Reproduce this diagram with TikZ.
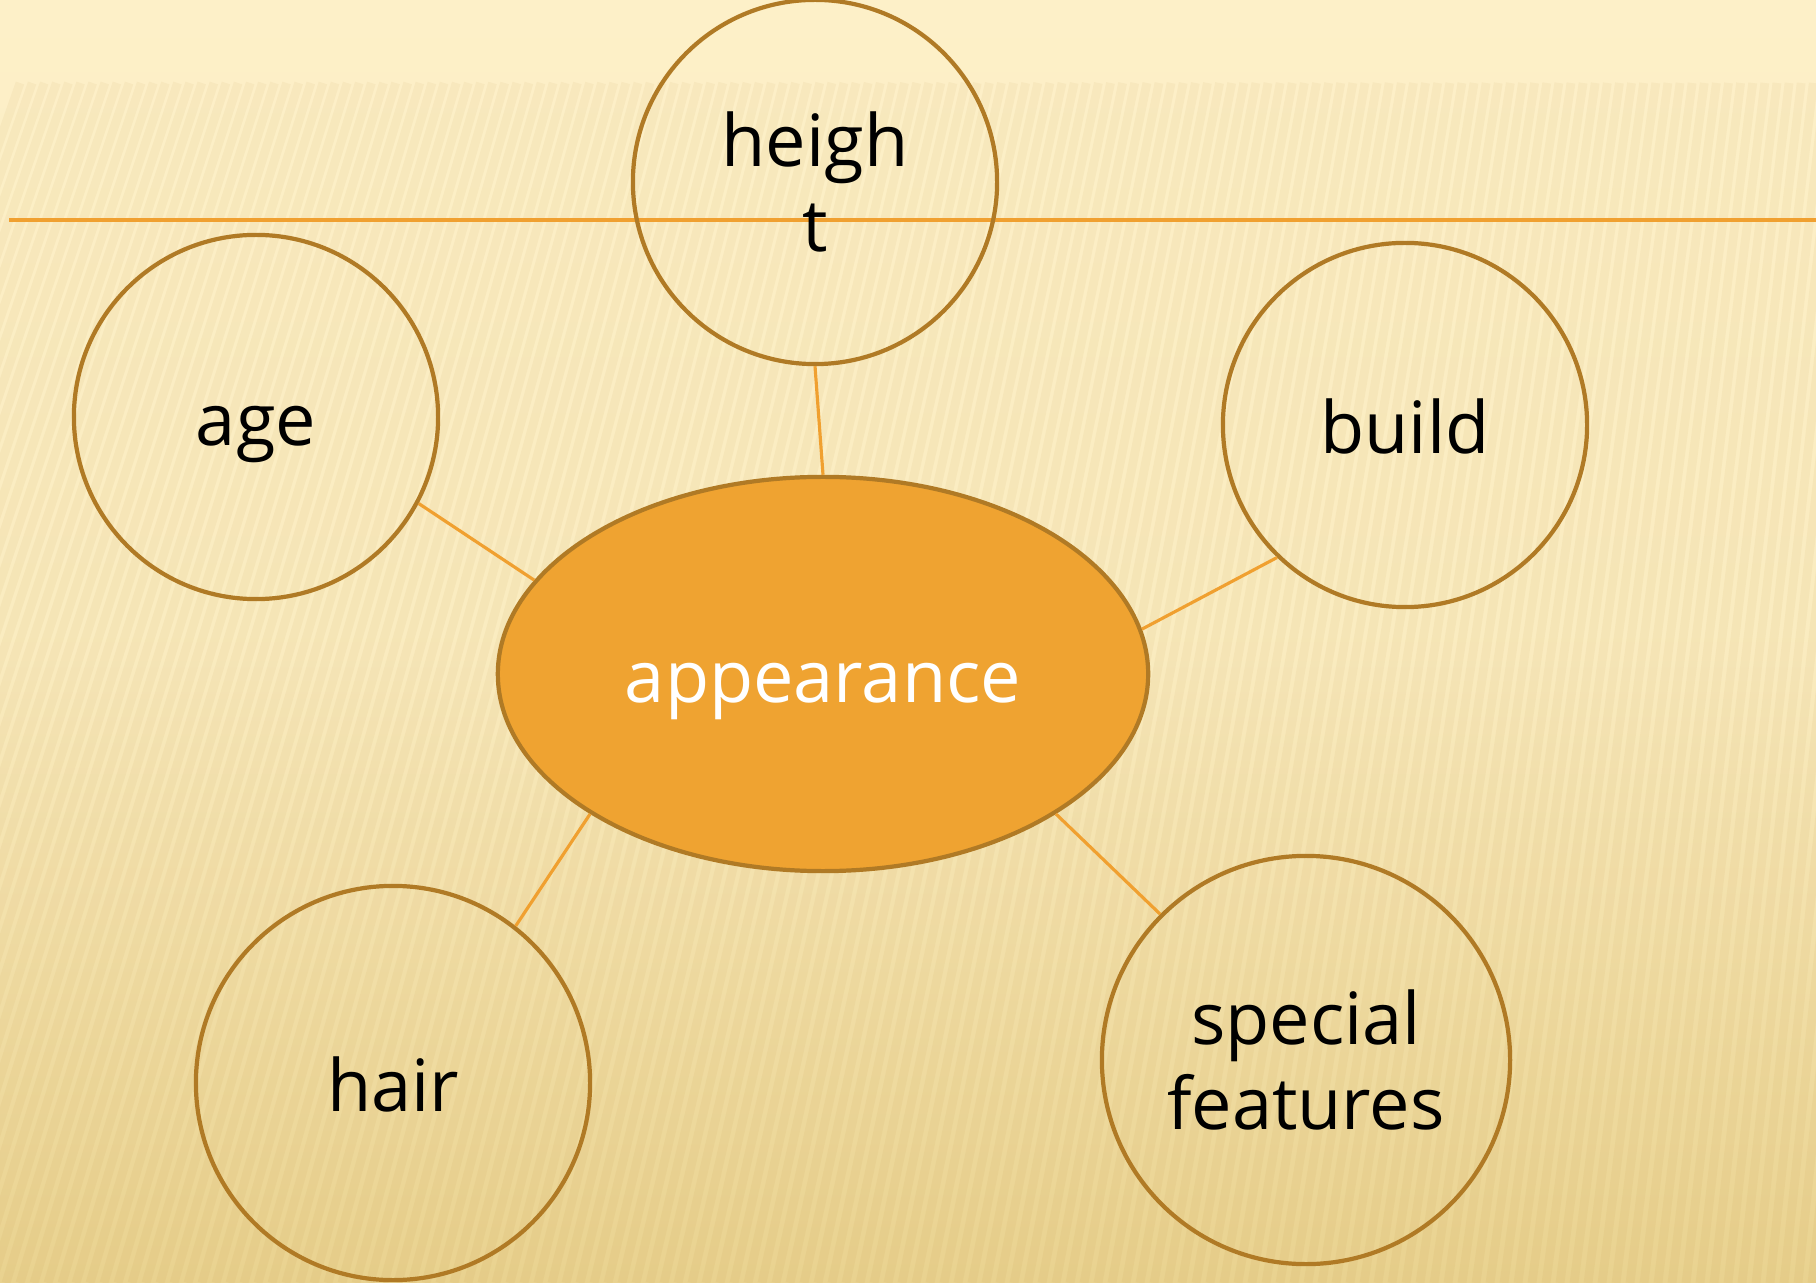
\documentclass[tikz,border=0pt]{standalone}
\usepackage{fontspec}
\setmainfont{Open Sans}
\usetikzlibrary{shapes.geometric, positioning}

\definecolor{ringbrown}{HTML}{B07A25}
\definecolor{linkorange}{HTML}{F0A030}
\definecolor{hubfill}{HTML}{EFA331}
\definecolor{paperlight}{HTML}{FDF0C8}
\definecolor{paperdark}{HTML}{E9D28F}

\begin{document}
\begin{tikzpicture}[x=0.01cm,y=-0.01cm,
    leaf/.style={circle,draw=ringbrown,line width=1.2pt,inner sep=0pt,
                 align=center,font=\fontsize{20.5}{24}\selectfont},
    hub/.style={ellipse,draw=ringbrown,fill=hubfill,line width=1.2pt,inner sep=0pt,
                minimum width=6.5cm,minimum height=3.94cm,text=white,
                font=\fontsize{20.5}{24}\selectfont},
    oneline/.style={text height=0.72cm,text depth=0.16cm},
    link/.style={draw=linkorange,line width=0.9pt},
    stripe/.style={draw=ringbrown,opacity=0.06,line width=2.5pt}]

    \useasboundingbox (0,0) rectangle (1816,1283);
    % paper background
    \begin{scope}
        \clip (0,0) rectangle (1816,1283);
        \shade[top color=paperlight,bottom color=paperdark,middle color=paperlight!85!paperdark]
            (0,0) rectangle (1816,1283);
        \foreach \x in {-400,-386,...,1830}
            \draw[stripe] (\x,1283) -- ({\x+(0.35-0.25*(\x+400)/2230)*1200},83);
    \end{scope}

    % rule line
    \draw[linkorange,line width=1.1pt] (9,220) -- (1816,220);

    \node[hub,oneline] (app) at (823,674) {appearance};
    \node[leaf,minimum size=3.64cm] (height) at (815,182) {heigh\\t};
    \node[leaf,oneline,minimum size=3.64cm] (age) at (256,417) {age};
    \node[leaf,oneline,minimum size=3.64cm] (build) at (1405,425) {build};
    \node[leaf,oneline,minimum size=3.94cm] (hair) at (393,1083) {hair};
    \node[leaf,minimum size=4.08cm] (special) at (1306,1060) {special\\features};

    \path[link]
        (height.south) edge (app.north)
        (age.-28) edge (app.162)
        (build.226) edge (app.8)
        (hair.52) edge (app.211)
        (special.135) edge (app.-31);
\end{tikzpicture}
\end{document}
